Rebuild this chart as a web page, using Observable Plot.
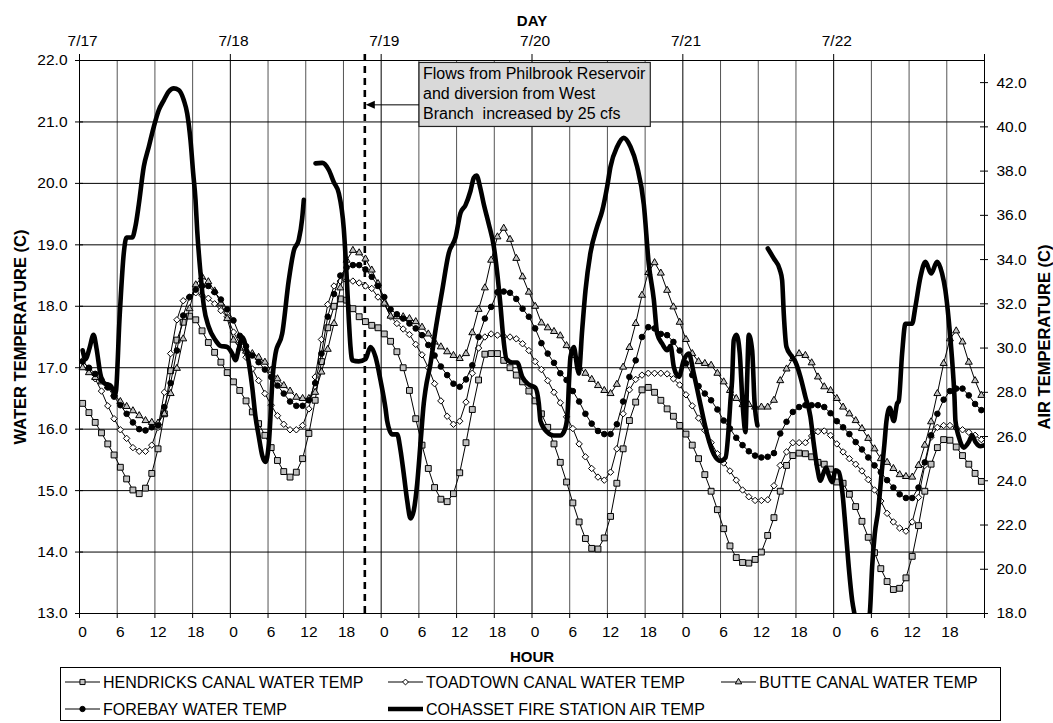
<!DOCTYPE html>
<html><head><meta charset="utf-8">
<script src="https://cdn.jsdelivr.net/npm/d3@7"></script>
<script src="https://cdn.jsdelivr.net/npm/@observablehq/plot@0.6"></script>
<style>
body{margin:0;background:#fff;font-family:"Liberation Sans",Arial,sans-serif;}
#wrap{position:relative;width:1053px;height:723px;background:#fff;}
#chart{position:absolute;left:0;top:0;}
#legend{position:absolute;left:60px;top:667px;width:941px;height:54px;box-sizing:border-box;border:1px solid #000;background:#fff;}
</style></head><body><div id="wrap"><div id="chart"></div><div id="legend"></div></div>
<script>
// ---------- DATA ----------
const hendricks = [16.42,16.27,16.11,15.94,15.76,15.58,15.38,15.19,15.01,14.95,15.04,15.28,15.68,16.25,16.95,17.45,17.74,17.84,17.78,17.6,17.41,17.25,17.09,16.92,
16.77,16.63,16.46,16.28,16.09,15.9,15.7,15.49,15.31,15.22,15.3,15.52,15.93,16.47,17.1,17.65,18.0,18.12,18.1,17.96,17.83,17.75,17.69,17.65,
17.55,17.43,17.26,17.0,16.63,16.17,15.74,15.36,15.05,14.86,14.82,14.95,15.29,15.78,16.32,16.8,17.22,17.23,17.23,17.12,17.0,16.88,16.77,16.62,
16.46,16.25,16.03,15.76,15.46,15.14,14.8,14.49,14.22,14.06,14.05,14.23,14.58,15.12,15.68,16.14,16.44,16.64,16.68,16.6,16.47,16.33,16.21,16.06,
15.92,15.74,15.52,15.26,14.99,14.69,14.38,14.1,13.91,13.83,13.82,13.88,14.0,14.27,14.56,14.99,15.41,15.57,15.61,15.6,15.55,15.46,15.43,15.35,
15.14,15.12,14.94,14.74,14.5,14.24,13.99,13.73,13.52,13.39,13.41,13.58,13.93,14.43,14.99,15.43,15.7,15.83,15.82,15.71,15.57,15.43,15.28,15.15];

const toadtown = [17.12,16.98,16.82,16.62,16.38,16.17,15.99,15.85,15.7,15.64,15.64,15.74,16.03,16.6,17.23,17.78,18.09,18.15,18.22,18.18,18.13,18.04,17.93,17.83,
17.58,17.39,17.17,16.98,16.79,16.58,16.39,16.22,16.08,15.99,15.99,16.06,16.33,16.85,17.46,18.03,18.33,18.41,18.42,18.41,18.38,18.33,18.29,18.15,
18.04,17.83,17.72,17.63,17.54,17.38,17.21,17.0,16.74,16.46,16.21,16.08,16.13,16.44,16.91,17.32,17.5,17.55,17.53,17.51,17.5,17.47,17.39,17.28,
17.1,16.97,16.79,16.6,16.43,16.2,16.01,15.76,15.55,15.36,15.22,15.17,15.3,15.68,16.25,16.64,16.81,16.88,16.91,16.91,16.91,16.9,16.82,16.72,
16.56,16.38,16.18,15.98,15.78,15.6,15.45,15.32,15.17,15.01,14.9,14.84,14.84,14.85,15.08,15.41,15.63,15.78,15.78,15.78,15.89,15.96,15.97,15.9,
15.76,15.63,15.52,15.43,15.32,15.18,15.01,14.83,14.63,14.49,14.39,14.34,14.49,14.89,15.41,15.87,16.03,16.06,16.06,16.02,15.99,15.95,15.9,15.83];

const butte = [17.0,16.92,16.84,16.77,16.7,16.57,16.45,16.37,16.3,16.22,16.14,16.11,16.1,16.25,16.58,16.99,17.47,17.96,18.35,18.48,18.4,18.25,18.05,17.8,
17.45,17.32,17.27,17.23,17.17,17.09,16.96,16.82,16.71,16.62,16.52,16.5,16.5,16.6,16.93,17.3,17.72,18.3,18.75,18.91,18.87,18.77,18.59,18.37,
18.05,17.84,17.83,17.83,17.8,17.75,17.66,17.55,17.42,17.34,17.26,17.2,17.15,17.23,17.57,17.95,18.3,18.75,19.13,19.27,19.09,18.78,18.48,18.23,
18.0,17.73,17.65,17.59,17.52,17.36,17.2,17.01,16.91,16.81,16.71,16.63,16.58,16.73,17.01,17.33,17.72,18.18,18.55,18.71,18.54,18.26,17.99,17.74,
17.46,17.23,17.1,17.07,17.04,16.91,16.77,16.63,16.5,16.4,16.4,16.36,16.36,16.36,16.47,16.79,16.98,17.15,17.23,17.2,17.08,16.85,16.69,16.63,
16.5,16.36,16.25,16.14,16.01,15.85,15.68,15.52,15.46,15.36,15.26,15.23,15.22,15.41,15.74,16.12,16.58,17.07,17.47,17.6,17.42,17.09,16.79,16.55];

const forebay = [17.1,17.0,16.9,16.8,16.68,16.53,16.39,16.25,16.11,16.0,15.98,16.03,16.06,16.36,16.75,17.28,17.85,18.15,18.27,18.33,18.33,18.23,18.11,17.95,
17.77,17.52,17.35,17.2,17.09,16.97,16.85,16.71,16.58,16.45,16.38,16.38,16.47,16.75,17.23,17.83,18.2,18.5,18.63,18.67,18.67,18.6,18.48,18.33,
18.15,17.95,17.87,17.8,17.72,17.64,17.53,17.37,17.2,17.02,16.88,16.74,16.69,16.81,17.04,17.5,17.8,17.99,18.23,18.24,18.22,18.12,17.96,17.83,
17.64,17.4,17.23,17.08,16.91,16.8,16.62,16.45,16.25,16.09,15.97,15.92,15.92,16.08,16.45,16.85,17.12,17.5,17.66,17.64,17.55,17.53,17.42,17.28,
17.07,16.88,16.7,16.58,16.47,16.32,16.14,16.01,15.86,15.74,15.64,15.57,15.54,15.55,15.61,15.93,16.12,16.28,16.36,16.39,16.39,16.39,16.36,16.26,
16.13,16.03,15.92,15.79,15.67,15.54,15.41,15.3,15.17,15.05,14.94,14.88,14.88,15.05,15.46,15.9,16.25,16.48,16.62,16.66,16.66,16.55,16.41,16.31];

// air temperature (secondary axis), hour of record and deg C; null = no record
const airHour = [0,0.45,1.1,1.73,2.2,2.84,3.48,4.43,5.23,5.9,6.55,6.98,7.88,8.4,8.94,9.73,10.53,11.32,12.12,12.91,13.71,14.5,15.3,16.1,16.64,17.16,17.59,17.96,18.23,18.75,19.28,20.07,21.14,21.93,23.0,23.8,24.32,24.85,25.39,26.18,26.98,27.5,28.03,28.57,29.1,29.62,29.89,30.16,30.69,31.75,32.8,33.6,34.39,34.93,35.19,
36.1,
37.05,38.12,39.17,39.96,40.76,41.55,41.98,42.35,42.62,42.89,43.94,45.0,45.8,46.6,47.39,48.19,48.46,49.25,50.05,50.57,51.1,51.64,52.17,52.69,53.23,53.76,54.28,54.55,55.35,56.14,57.21,58.26,59.33,60.12,60.92,61.71,62.25,62.67,63.3,63.83,64.63,65.42,65.96,66.49,66.92,67.44,68.35,69.14,69.94,70.99,72.05,72.58,72.85,73.92,74.96,76.03,76.83,77.19,77.4,77.62,78.15,78.69,78.94,79.48,80.01,80.8,81.87,82.67,83.46,83.99,85.05,86.1,87.17,88.23,89.29,90.08,90.88,91.42,92.21,93.01,93.54,94.06,94.86,95.65,96.45,97.24,98.04,99.37,100.43,101.5,102.3,102.8,103.07,103.34,103.6,104.03,104.56,104.94,105.19,105.46,105.73,105.99,106.53,106.9,107.37,
108.2,
109.02,109.97,110.93,111.3,111.56,111.99,112.73,113.42,114.21,115.0,115.8,116.33,116.87,117.4,117.82,118.3,118.72,119.26,119.79,120.31,120.85,121.38,121.9,122.44,122.8,123.9,125.24,125.62,126.04,126.58,127.1,127.58,127.9,128.43,129.06,129.6,129.85,130.39,130.92,131.98,132.5,133.3,134.1,135.0,135.96,136.75,137.28,137.81,138.35,138.72,138.88,139.4,140.2,140.99,141.53,142.06,142.85,143.38];
const airTemp = [29.9,29.5,30.0,30.6,30.0,28.8,28.4,28.3,27.95,31.5,34.3,35.0,35.0,35.5,36.5,38.2,39.1,40.0,40.76,41.2,41.6,41.74,41.66,41.2,40.6,39.4,37.9,36.7,35.3,33.4,31.9,30.95,30.35,30.1,30.05,29.75,29.45,29.98,30.5,29.75,28.24,26.9,26.0,25.15,24.85,25.68,26.9,28.4,29.75,30.65,33.07,34.4,34.9,35.86,36.7,
null,
38.35,38.37,38.05,37.5,37.0,35.4,33.4,31.3,30.05,29.45,29.4,29.5,30.05,29.6,28.55,27.27,26.7,26.1,26.1,25.4,24.3,23.1,22.3,22.66,23.87,25.7,27.5,28.1,29.3,30.8,32.6,34.3,35.0,36.1,36.46,37.1,37.7,37.8,37.2,36.5,35.6,34.6,33.4,31.9,30.5,29.5,29.35,29.35,28.7,28.35,28.2,27.5,26.7,26.2,26.05,26.05,26.4,27.2,28.55,29.6,30.05,29.15,28.85,30.8,32.6,34.3,35.5,36.2,37.3,38.2,39.1,39.5,39.1,38.2,36.5,33.8,32.2,30.65,30.2,29.9,30.1,29.15,28.7,29.45,29.75,28.85,27.8,26.1,25.2,24.9,25.05,26.4,27.6,28.55,30.35,30.6,29.75,27.8,26.8,26.2,28.55,30.6,29.9,27.6,26.5,
null,
34.5,34.05,33.55,33.07,31.56,30.05,29.67,29.37,28.7,27.8,26.9,25.68,24.6,24.0,24.3,24.6,24.25,23.94,24.47,24.4,23.57,21.9,20.1,18.6,18.0,16.8,18.0,20.1,21.6,22.66,24.25,25.68,26.7,27.3,26.7,27.5,27.6,29.75,31.1,31.1,31.86,33.2,33.9,33.37,33.9,33.37,32.6,31.26,29.45,27.8,26.7,26.0,25.5,25.75,26.05,25.75,25.56,25.6];

const waterTicks = [13,14,15,16,17,18,19,20,21,22];
const airTicks = [18,20,22,24,26,28,30,32,34,36,38,40,42];
const hourTickPos = [0,6,12,18,24,30,36,42,48,54,60,66,72,78,84,90,96,102,108,114,120,126,132,138];
const hourTickLabels = ["0","6","12","18","0","6","12","18","0","6","12","18","0","6","12","18","0","6","12","18","0","6","12","18"];
const dayHours = [0,24,48,72,96,120];
const dayLabels = ["7/17","7/18","7/19","7/20","7/21","7/22"];
const eventHour = 44.9;
const annotationLines = ["Flows from Philbrook Reservoir","and diversion from West","Branch  increased by 25 cfs"];
const seriesNames = ["HENDRICKS CANAL WATER TEMP","TOADTOWN CANAL WATER TEMP","BUTTE CANAL WATER TEMP","FOREBAY WATER TEMP","COHASSET FIRE STATION AIR TEMP"];

// ---------- BUILD ----------
const WMIN = 13, WMAX = 22, AMIN = 18, AMAX = 43;
const toWater = a => (a == null ? NaN : WMIN + (a - AMIN) * (WMAX - WMIN) / (AMAX - AMIN));
const nHours = hendricks.length;
const hours = Array.from({length: nHours}, (_, i) => i);
const gridAll = hourTickPos.slice(1).concat([nHours]);
const gridDay = gridAll.filter(h => h % 24 === 0 && h < nHours);
const gridSix = gridAll.filter(h => h % 24 !== 0);
const dayBounds = [0].concat(gridAll.filter(h => h % 24 === 0));

const mk = arr => arr.map((v, i) => ({h: hours[i], v}));
const airData = airHour.map((h, i) => ({h, w: toWater(airTemp[i])}));
const FONT = "Liberation Sans, Arial, Helvetica, sans-serif";

const styles = [
  {data: mk(hendricks), symbol: "square", fill: "#c0c0c0", r: 3.3},
  {data: mk(toadtown), symbol: "diamond2", fill: "#ffffff", r: 2.9},
  {data: mk(butte), symbol: "triangle", fill: "#c0c0c0", r: 2.6},
  {data: mk(forebay), symbol: "circle", fill: "#000000", r: 2.8}
];

const marks = [
  Plot.ruleX(gridSix, {x: d => d - 0.5, stroke: "#555", strokeWidth: 1}),
  Plot.ruleX(gridDay, {x: d => d - 0.5, stroke: "#000", strokeWidth: 1}),
  Plot.ruleY(waterTicks.slice(1, -1), {stroke: "#000", strokeWidth: 1}),
  Plot.frame({stroke: "#000", strokeWidth: 1}),
  // axis ticks
  Plot.ruleY(waterTicks, {x1: -0.5, x2: -0.5, insetLeft: -4, insetRight: -4, stroke: "#000"}),
  Plot.ruleY(airTicks, {y: toWater, x1: nHours - 0.5, x2: nHours - 0.5, insetLeft: -4, insetRight: -4, stroke: "#000"}),
  Plot.ruleX(dayBounds, {x: d => d - 0.5, y1: WMAX, y2: WMAX, insetTop: -6, stroke: "#000"}),
  Plot.ruleX([0].concat(gridAll), {x: d => d - 0.5, y1: WMIN, y2: WMIN, insetBottom: -5, stroke: "#000"}),
  // tick labels
  Plot.text(waterTicks, {x: -0.5, y: d => d, dx: -12, textAnchor: "end", text: d => d.toFixed(1), fontSize: 15.5, fill: "#000"}),
  Plot.text(airTicks, {x: nHours - 0.5, y: toWater, dx: 12, textAnchor: "start", text: d => d.toFixed(1), fontSize: 15.5, fill: "#000"}),
  Plot.text(hourTickPos, {x: d => d, y: WMIN, dy: 19, text: (d, i) => hourTickLabels[i], fontSize: 15.5, fill: "#000"}),
  Plot.text(dayHours, {x: d => d, y: WMAX, dy: -19, text: (d, i) => dayLabels[i], fontSize: 15.5, fill: "#000"}),
  // axis titles
  Plot.text(["DAY"], {frameAnchor: "top", dy: -45, text: d => d, textAnchor: "middle", fontWeight: "bold", fontSize: 15, fill: "#000"}),
  Plot.text(["HOUR"], {frameAnchor: "bottom", dy: 48, text: d => d, textAnchor: "middle", fontWeight: "bold", fontSize: 15, fill: "#000"}),
  Plot.text(["WATER TEMPERATURE (C)"], {frameAnchor: "left", dx: -59, rotate: -90, textAnchor: "middle", text: d => d, fontWeight: "bold", fontSize: 16.5, fill: "#000"}),
  Plot.text(["AIR TEMPERATURE (C)"], {frameAnchor: "right", dx: 60, rotate: -90, textAnchor: "middle", text: d => d, fontWeight: "bold", fontSize: 16.5, fill: "#000"}),
  // event line
  Plot.ruleX([eventHour], {stroke: "#000", strokeWidth: 2.6, strokeDasharray: "7,5", insetTop: -6})
];
for (const s of styles) {
  marks.push(Plot.line(s.data, {x: "h", y: "v", stroke: "#000", strokeWidth: 1}));
  marks.push(Plot.dot(s.data, {x: "h", y: "v", symbol: s.symbol, r: s.r, fill: s.fill, stroke: "#000", strokeWidth: 1}));
}
marks.push(Plot.line(airData, {x: "h", y: "w", stroke: "#000", strokeWidth: 4.6, curve: "monotone-x", strokeLinejoin: "round", strokeLinecap: "round", clip: true}));

const chart = Plot.plot({
  width: 1053, height: 666,
  marginLeft: 79, marginRight: 69, marginTop: 60, marginBottom: 53,
  style: {fontFamily: FONT, fontSize: "15.5px", background: "#fff", color: "#000", overflow: "visible"},
  x: {domain: [-0.5, nHours - 0.5], axis: null},
  y: {domain: [WMIN, WMAX], axis: null},
  marks
});
document.getElementById("chart").appendChild(chart);

// ---------- ANNOTATION ----------
const sx = chart.scale("x"), sy = chart.scale("y");
const annoHour = 53.6, annoTop = 21.96, arrowLevel = 21.27;
const g = d3.select(chart).append("g").attr("font-family", FONT).attr("font-size", 16).attr("text-anchor", "start");
const bx = sx.apply(annoHour), by = sy.apply(annoTop);
const rect = g.append("rect").attr("x", bx).attr("y", by).attr("height", 64).attr("fill", "#d9d9d9").attr("stroke", "#222").attr("stroke-width", 1.2);
let maxW = 0;
annotationLines.forEach((t, i) => {
  const el = g.append("text").attr("x", bx + 4).attr("y", by + 17 + i * 20).attr("fill", "#000").attr("text-anchor", "start").style("white-space", "pre").text(t);
  maxW = Math.max(maxW, el.node().getComputedTextLength());
});
rect.attr("width", maxW + 9);
const ay = sy.apply(arrowLevel), tipX = sx.apply(eventHour) + 1.5;
g.append("line").attr("x1", bx).attr("x2", tipX + 8).attr("y1", ay).attr("y2", ay).attr("stroke", "#000").attr("stroke-width", 1);
g.append("path").attr("d", `M${tipX},${ay}L${tipX + 9},${ay - 4}L${tipX + 9},${ay + 4}Z`).attr("fill", "#000");

// ---------- LEGEND ----------
const legendItems = [
  {name: seriesNames[0], col: 0, row: 0, type: d3.symbolSquare, fill: "#c0c0c0", size: 26},
  {name: seriesNames[1], col: 1, row: 0, type: d3.symbolDiamond2, fill: "#fff", size: 22},
  {name: seriesNames[2], col: 2, row: 0, type: d3.symbolTriangle, fill: "#c0c0c0", size: 18},
  {name: seriesNames[3], col: 0, row: 1, type: d3.symbolCircle, fill: "#000", size: 22},
  {name: seriesNames[4], col: 1, row: 1, type: null}
];
const colX = [4, 327, 660], rowY = [14, 41];
const lsvg = d3.select("#legend").append("svg").attr("width", 939).attr("height", 52)
  .attr("font-family", FONT).attr("font-size", 16).style("display", "block");
for (const it of legendItems) {
  const x0 = colX[it.col], y0 = rowY[it.row];
  lsvg.append("line").attr("x1", x0).attr("x2", x0 + 35).attr("y1", y0).attr("y2", y0)
    .attr("stroke", "#000").attr("stroke-width", it.type ? 1 : 4.6);
  if (it.type) {
    lsvg.append("path").attr("d", d3.symbol().type(it.type).size(it.size)())
      .attr("transform", `translate(${x0 + 17.5},${y0})`).attr("fill", it.fill).attr("stroke", "#000");
  }
  lsvg.append("text").attr("x", x0 + 38).attr("y", y0).attr("dy", "0.36em").attr("fill", "#000").text(it.name);
}
</script></body></html>
